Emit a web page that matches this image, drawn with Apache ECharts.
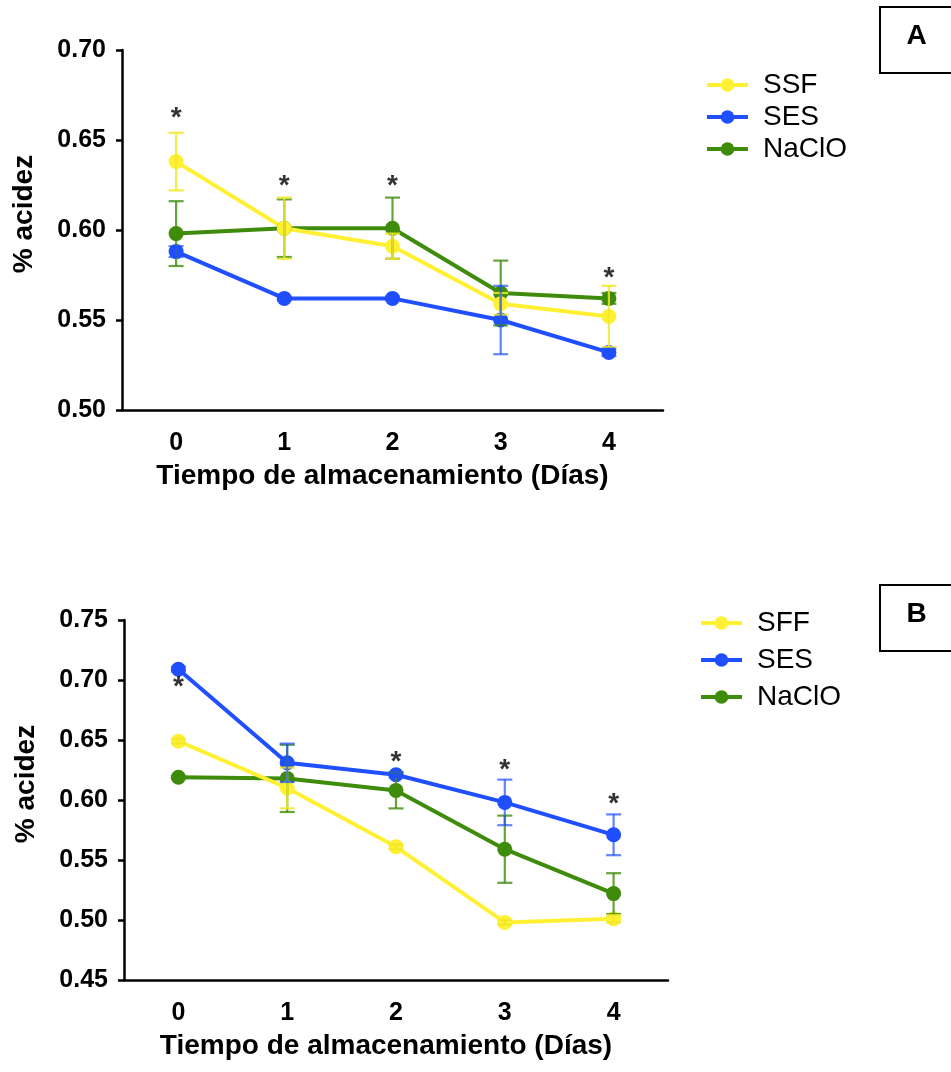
<!DOCTYPE html>
<html>
<head>
<meta charset="utf-8">
<script src="https://cdn.jsdelivr.net/npm/echarts@6/dist/echarts.min.js"></script>
<style>
  html, body { margin: 0; padding: 0; background: #fff; }
  #chart { width: 951px; height: 1072px; }
</style>
</head>
<body>
<div id="chart"></div>
<script>
// days of storage
var days = ['0', '1', '2', '3', '4']

// panel A
var ssfA = [0.638, 0.601, 0.591, 0.559, 0.552]
var ssfA_sd = [0.016, 0.017, 0.007, 0.006, 0.017]
var sesA = [0.588, 0.562, 0.562, 0.550, 0.532]
var sesA_sd = [0.003, 0.001, 0.001, 0.019, 0.002]
var naclA = [0.598, 0.601, 0.601, 0.565, 0.562]
var naclA_sd = [0.018, 0.016, 0.017, 0.018, 0.003]
var starsA = [0.666, 0.628, 0.628, null, 0.577]

// panel B
var sffB = [0.649, 0.610, 0.561, 0.498, 0.501]
var sffB_sd = [0.002, 0.017, 0.002, 0.002, 0.003]
var sesB = [0.709, 0.631, 0.621, 0.598, 0.571]
var sesB_sd = [0.002, 0.016, 0.002, 0.019, 0.017]
var naclB = [0.619, 0.618, 0.608, 0.559, 0.522]
var naclB_sd = [0.001, 0.028, 0.015, 0.028, 0.017]
var starsB = [0.700, null, 0.637, 0.631, 0.602]

var yTicksA = { min: 0.50, max: 0.70, step: 0.05 }
var yTicksB = { min: 0.45, max: 0.75, step: 0.05 }

var YELLOW = '#fff033'
var BLUE = '#1f4fff'
var GREEN = '#3f8c0c'
var FONT = 'Liberation Sans, Arial, Helvetica, sans-serif'

function errData (mean, sd) {
  var out = []
  for (var i = 0; i < mean.length; i++) {
    out.push([i, mean[i] - sd[i], mean[i] + sd[i]])
  }
  return out
}

function starData (vals) {
  var out = []
  for (var i = 0; i < vals.length; i++) {
    if (vals[i] !== null) out.push([i, vals[i]])
  }
  return out
}

function errSeries (name, mean, sd, color, idx) {
  return {
    name: name,
    type: 'custom',
    xAxisIndex: idx,
    yAxisIndex: idx,
    silent: true,
    z: 3,
    encode: { x: 0, y: [1, 2] },
    data: errData(mean, sd),
    renderItem: function (params, api) {
      var x = api.value(0)
      var lo = api.coord([x, api.value(1)])
      var hi = api.coord([x, api.value(2)])
      var hw = 7.5
      var st = { stroke: color, lineWidth: 2.2 }
      return {
        type: 'group',
        children: [
          { type: 'line', shape: { x1: lo[0], y1: lo[1], x2: hi[0], y2: hi[1] }, style: st },
          { type: 'line', shape: { x1: hi[0] - hw, y1: hi[1], x2: hi[0] + hw, y2: hi[1] }, style: st },
          { type: 'line', shape: { x1: lo[0] - hw, y1: lo[1], x2: lo[0] + hw, y2: lo[1] }, style: st }
        ]
      }
    }
  }
}

function lineSeries (name, data, color, idx) {
  return {
    name: name,
    type: 'line',
    xAxisIndex: idx,
    yAxisIndex: idx,
    data: data,
    symbol: 'circle',
    symbolSize: 15,
    lineStyle: { color: color, width: 4 },
    itemStyle: { color: color },
    z: 2
  }
}

function starSeries (vals, idx) {
  return {
    name: 'stars' + idx,
    type: 'scatter',
    xAxisIndex: idx,
    yAxisIndex: idx,
    data: starData(vals),
    symbolSize: 1,
    itemStyle: { color: 'transparent' },
    silent: true,
    z: 5,
    label: {
      show: true,
      position: 'inside',
      formatter: '*',
      color: '#000',
      fontFamily: FONT,
      fontWeight: 'bold',
      fontSize: 28,
      offset: [0, 7]
    }
  }
}

function xAxisOpt (idx) {
  return {
    type: 'category',
    gridIndex: idx,
    data: days,
    boundaryGap: true,
    axisLine: { lineStyle: { color: '#000', width: 2.5 } },
    axisTick: { alignWithLabel: true, length: 6, lineStyle: { color: '#000', width: 2.5 } },
    axisLabel: { color: '#000', fontFamily: FONT, fontWeight: 'bold', fontSize: 25, margin: 21 },
    splitLine: { show: false },
    name: 'Tiempo de almacenamiento (Días)',
    nameLocation: 'middle',
    nameGap: 52,
    nameTextStyle: { color: '#000', fontFamily: FONT, fontWeight: 'bold', fontSize: 28, padding: [0, 20, 0, 0] }
  }
}

function yAxisOpt (idx, t) {
  return {
    type: 'value',
    gridIndex: idx,
    min: t.min,
    max: t.max,
    interval: t.step,
    axisLine: { show: true, lineStyle: { color: '#000', width: 2.5 } },
    axisTick: { show: true, length: 6, lineStyle: { color: '#000', width: 2.5 } },
    axisLabel: {
      color: '#000', fontFamily: FONT, fontWeight: 'bold', fontSize: 25, margin: 16,
      formatter: function (v) { return v.toFixed(2) }
    },
    splitLine: { show: false },
    name: '% acidez',
    nameLocation: 'middle',
    nameGap: 84,
    nameTextStyle: { color: '#000', fontFamily: FONT, fontWeight: 'bold', fontSize: 28, padding: [0, 0, 0, 32] }
  }
}

var legendText = { color: '#000', fontFamily: FONT, fontSize: 28, lineHeight: 26, padding: [0, 0, 0, 10] }

var option = {
  backgroundColor: '#fff',
  animation: false,
  grid: [
    { left: 122, top: 50, width: 541, height: 360 },
    { left: 124, top: 620, width: 544, height: 360 }
  ],
  xAxis: [xAxisOpt(0), xAxisOpt(1)],
  yAxis: [yAxisOpt(0, yTicksA), yAxisOpt(1, yTicksB)],
  legend: [
    {
      data: ['SSF', 'SES', 'NaClO'],
      orient: 'vertical',
      left: 700,
      top: 66,
      itemWidth: 41,
      itemHeight: 17,
      itemGap: 4,
      lineStyle: { width: 4 },
      textStyle: legendText,
      selectedMode: false
    },
    {
      data: ['SFF', 'SES', 'NaClO'],
      orient: 'vertical',
      left: 694,
      top: 604,
      itemWidth: 41,
      itemHeight: 17,
      itemGap: 9,
      lineStyle: { width: 4 },
      textStyle: legendText,
      selectedMode: false
    }
  ],
  graphic: [
    { type: 'rect', shape: { x: 880, y: 7, width: 90, height: 66 }, style: { fill: '#fff', stroke: '#000', lineWidth: 2 } },
    { type: 'text', x: 916.5, y: 36, style: { text: 'A', fill: '#000', font: 'bold 28px ' + FONT, textAlign: 'center', textVerticalAlign: 'middle' } },
    { type: 'rect', shape: { x: 880, y: 585, width: 90, height: 66 }, style: { fill: '#fff', stroke: '#000', lineWidth: 2 } },
    { type: 'text', x: 916.5, y: 614, style: { text: 'B', fill: '#000', font: 'bold 28px ' + FONT, textAlign: 'center', textVerticalAlign: 'middle' } }
  ],
  series: [
    lineSeries('NaClO', naclA, GREEN, 0),
    lineSeries('SSF', ssfA, YELLOW, 0),
    lineSeries('SES', sesA, BLUE, 0),
    errSeries('errNaClO_A', naclA, naclA_sd, 'rgba(63,140,12,0.8)', 0),
    errSeries('errSSF_A', ssfA, ssfA_sd, 'rgba(240,232,40,0.85)', 0),
    errSeries('errSES_A', sesA, sesA_sd, 'rgba(31,79,255,0.7)', 0),
    starSeries(starsA, 0),

    lineSeries('NaClO', naclB, GREEN, 1),
    lineSeries('SFF', sffB, YELLOW, 1),
    lineSeries('SES', sesB, BLUE, 1),
    errSeries('errNaClO_B', naclB, naclB_sd, 'rgba(63,140,12,0.8)', 1),
    errSeries('errSFF_B', sffB, sffB_sd, 'rgba(240,232,40,0.85)', 1),
    errSeries('errSES_B', sesB, sesB_sd, 'rgba(31,79,255,0.7)', 1),
    starSeries(starsB, 1)
  ]
}

var chart = echarts.init(document.getElementById('chart'))
chart.setOption(option)
</script>
</body>
</html>
